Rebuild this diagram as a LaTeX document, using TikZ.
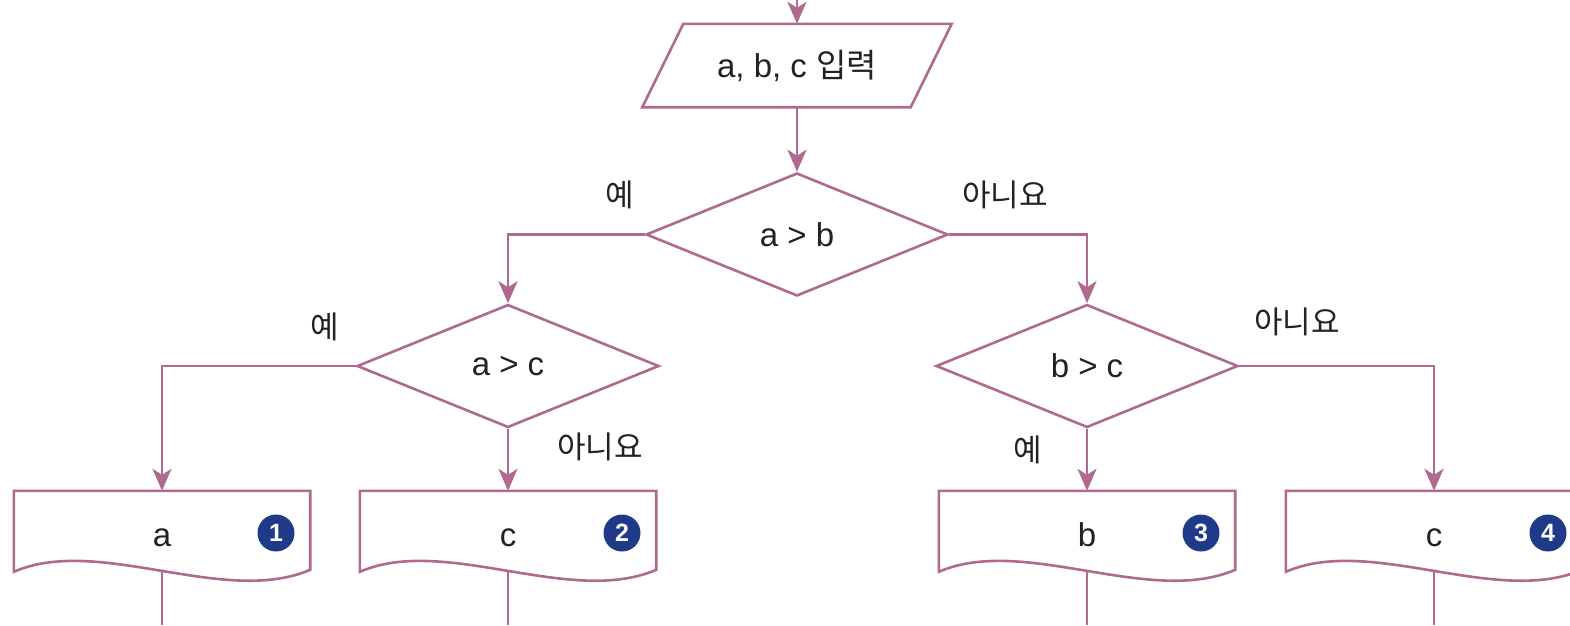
\documentclass[tikz,border=0pt]{standalone}
\usepackage{fontspec}
\setmainfont{Liberation Sans}
\newfontfamily\kr{Noto Sans CJK KR}
\usetikzlibrary{shapes.geometric,arrows.meta,calc}
\definecolor{flow}{RGB}{176,106,144}
\definecolor{navy}{RGB}{32,58,138}
\definecolor{ink}{RGB}{34,34,34}
\begin{document}
\begin{tikzpicture}[x=1pt,y=-1pt,
  every node/.style={text=ink, font=\fontsize{33}{36}\selectfont},
  line/.style={draw=flow, line width=2.6pt},
  arr/.style={line, -{Stealth[length=22pt,width=19pt,inset=6pt]}},
  dec/.style={diamond, draw=flow, line width=2.6pt, minimum width=302pt, minimum height=123pt, inner sep=0pt, aspect=2.45},
  docbox/.style={minimum width=296pt, minimum height=80pt, inner sep=0pt, text height=30pt, text depth=0pt},
  num/.style={circle, fill=navy, text=white, minimum size=37pt, inner sep=0pt, font=\fontsize{25}{25}\selectfont\bfseries},
  lab/.style={font=\kr\fontsize{31}{33}\selectfont}]
\clip (0,0) rectangle (1570,625);
\fill[white] (0,0) rectangle (1570,625);
\coordinate (top) at (797,0);
\coordinate (bot) at (0,625);
% input
\node[minimum width=268pt, minimum height=83pt, inner sep=0pt] (inp) at (797,65.5) {a, b, c {\kr 입력}};
\draw[line] ($(inp.north west)+(20.5,0)$) -- ($(inp.north east)+(20.5,0)$) -- ($(inp.south east)+(-20.5,0)$) -- ($(inp.south west)+(-20.5,0)$) -- cycle;
% decisions
\node[dec] (d1) at (797,234.5) {a > b};
\node[dec] (d2) at (508,366) {a > c};
\node[dec] (d3) at (1087,366) {b > c};
% outputs
\newcommand\mydoc[4]{%
  \node[docbox] (#1) at (#2,531) {#3};
  \draw[line] (#1.north west) -- (#1.north east) -- ($(#1.north east)+(0,79)$)
    .. controls ($(#1.north west)+(210,116)$) and ($(#1.north west)+(85,44)$) .. ($(#1.north west)+(0,81)$)
    coordinate[pos=0.5] (w#1) -- cycle;
  \node[num] (n#1) at ($(#1.center)+(114,2)$) {#4};
  \draw[line] (#1.center |- w#1) -- (#1.center |- bot);
}
\mydoc{b1}{162}{a}{1}
\mydoc{b2}{508}{c}{2}
\mydoc{b3}{1087}{b}{3}
\mydoc{b4}{1434}{c}{4}
% connectors
\draw[arr] (top) -- (inp.north);
\draw[arr] (inp.south) -- (d1.north);
\draw[arr] (d1.west) -| (d2.north);
\draw[arr] (d1.east) -| (d3.north);
\draw[arr] (d2.west) -| (b1.north);
\draw[arr] (d2.south) -- (b2.north);
\draw[arr] (d3.south) -- (b3.north);
\draw[arr] (d3.east) -| (b4.north);
% labels
\node[lab] (l1) at (620,195) {예};
\node[lab] (l2) at (1005,195) {아니요};
\node[lab] (l3) at (325,327) {예};
\node[lab] (l4) at (600,447) {아니요};
\node[lab] (l5) at (1028,450) {예};
\node[lab] (l6) at (1297,322) {아니요};
\end{tikzpicture}
\end{document}
